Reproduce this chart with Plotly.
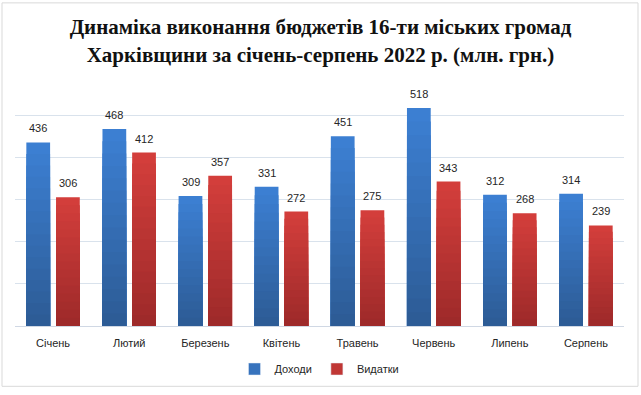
import plotly.graph_objects as go

months = ["Січень", "Лютий", "Березень", "Квітень", "Травень", "Червень", "Липень", "Серпень"]
income = [436, 468, 309, 331, 451, 518, 312, 314]
spend = [306, 412, 357, 272, 275, 343, 268, 239]
series_names = ["Доходи", "Видатки"]

blue_top, blue_bot = (60, 127, 210), (45, 92, 150)
red_top, red_bot = (211, 62, 59), (158, 42, 42)
N = 16

def lerp(a, b, t):
    return "rgb(%d,%d,%d)" % tuple(round(a[i] + (b[i] - a[i]) * t) for i in range(3))

fig = go.Figure()
for vals, name, top, bot, grp in [(income, series_names[0], blue_top, blue_bot, "a"),
                                  (spend, series_names[1], red_top, red_bot, "b")]:
    for k in range(N):
        frac = (N - k) / N
        fig.add_trace(go.Bar(
            x=months, y=[v * frac for v in vals],
            marker=dict(color=lerp(top, bot, k / (N - 1)), line=dict(width=0)),
            offsetgroup=grp, name=name, showlegend=False, hoverinfo="skip",
        ))
    fig.add_trace(go.Bar(
        x=[None], y=[None], name=name, offsetgroup=grp,
        marker=dict(color=lerp(top, bot, 0.35)), showlegend=True,
    ))

for vals, dx in [(income, -14.75), (spend, 14.75)]:
    for m, v in zip(months, vals):
        fig.add_annotation(x=m, y=v, text=str(v), showarrow=False,
                           xshift=dx, yshift=6, yanchor="bottom",
                           font=dict(family="Liberation Sans", size=11, color="#262626"))

fig.add_shape(type="rect", xref="paper", yref="paper",
              x0=(2 - 15) / 609, x1=(638 - 15) / 609,
              y0=(331 - 392.5) / 258, y1=(331 - 1.5) / 258,
              line=dict(color="#D9D9D9", width=1), layer="below")

fig.update_layout(
    width=641, height=395,
    margin=dict(l=15, r=17, t=73, b=64),
    paper_bgcolor="white", plot_bgcolor="white",
    barmode="group", bargap=0.22, bargroupgap=0.2,
    title=dict(text="Динаміка виконання бюджетів 16-ти міських громад<br>Харківщини за січень-серпень 2022 р. (млн. грн.)",
               x=0.5, xanchor="center", y=0.913, yanchor="middle",
               font=dict(family="Liberation Serif", size=21, color="#111111", weight="bold")),
    xaxis=dict(showgrid=False, showline=True, linecolor="#D0D8E4", linewidth=1,
               ticks="", ticklabelstandoff=7,
               tickfont=dict(family="Liberation Sans", size=11, color="#262626"),
               fixedrange=True),
    yaxis=dict(range=[0, 601], dtick=100, showgrid=True, gridcolor="#D9E2EC", gridwidth=1,
               showticklabels=False, zeroline=False, fixedrange=True),
    legend=dict(orientation="h", x=0.5, xanchor="center", y=-0.17, yanchor="middle",
                font=dict(family="Liberation Sans", size=11, color="#262626"),
                itemwidth=30, traceorder="normal"),
    showlegend=True,
)

fig.write_html("out.html", config={"displayModeBar": False},
               post_script="document.body.style.margin='0';")
